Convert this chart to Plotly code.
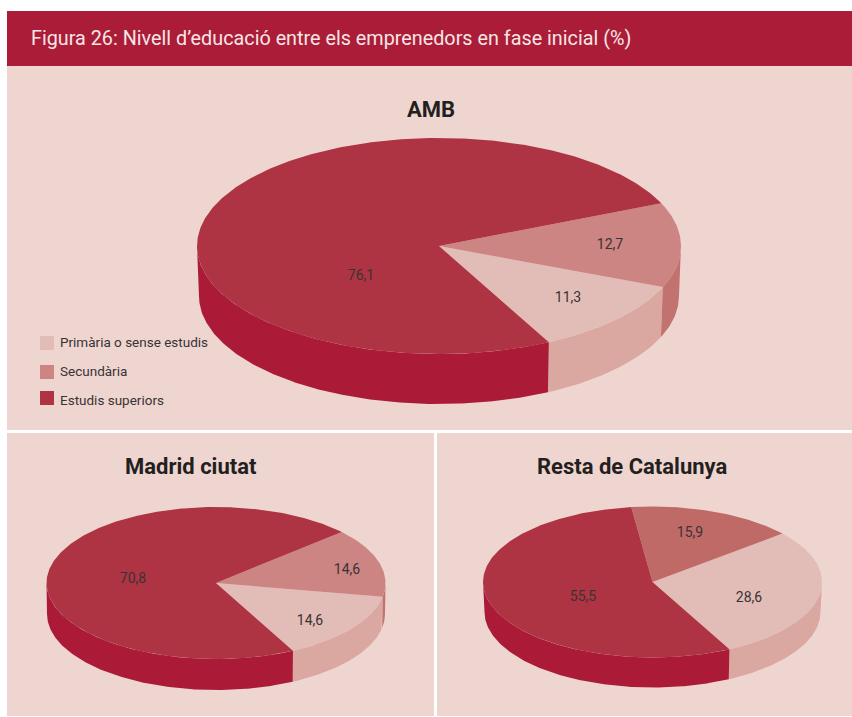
import numpy as np
import plotly.graph_objects as go

# ---- data ----
TITLE = "Figura 26: Nivell d’educació entre els emprenedors en fase inicial (%)"
CATEGORIES = ["Primària o sense estudis", "Secundària", "Estudis superiors"]
AMB_VALUES = [11.3, 12.7, 76.1]
MADRID_VALUES = [14.6, 14.6, 70.8]
RESTA_VALUES = [28.6, 15.9, 55.5]
CHART_NAMES = ["AMB", "Madrid ciutat", "Resta de Catalunya"]

# ---- styles / layout ----
FONT = "Roboto"
TEXT = "#3a3234"
PANEL = "#EFD5D0"
HEADER = "#AB1C39"
TOP_COLORS = ["#E2BDB7", "#CC8582", "#AE3443"]
SIDE_COLORS = ["#DBA8A1", "#C27370", "#AB1B37"]
RESTA_TOP = ["#E2BDB7", "#C06A68", "#AE3443"]

PIES = [
    dict(values=AMB_VALUES, cx=439, cy=246, rx=242, ry=108, depth=50, inset=2, start=-63, top=TOP_COLORS,
         title=(431, 109), labels=[(568, 298), (610, 245), (361, 276)]),
    dict(values=MADRID_VALUES, cx=216, cy=583, rx=169.5, ry=76, depth=31, inset=0.5, start=-63, top=TOP_COLORS,
         title=(191, 466), labels=[(310, 621), (347, 570), (133, 579)]),
    dict(values=RESTA_VALUES, cx=652.5, cy=582, rx=169.5, ry=75.5, depth=30, inset=1.5, start=-63, top=RESTA_TOP,
         title=(632, 466), labels=[(749, 598), (690, 533), (583, 597)]),
]
LEGEND_X, LEGEND_Y = 47, [343, 372, 398]
LEGEND_TEXT_Y = [343.5, 372.5, 401.5]

fig = go.Figure()


def arc(cx, cy, rx, ry, a0, a1):
    n = max(2, int(abs(a1 - a0) * 1.5))
    t = np.radians(np.linspace(a0, a1, n))
    return cx + rx * np.cos(t), cy - ry * np.sin(t)


def poly(x, y, color, name):
    fig.add_trace(go.Scatter(x=list(x), y=list(y), mode="lines", fill="toself",
                             fillcolor=color, line=dict(width=0, color=color),
                             name=name, showlegend=False, hoverinfo="name"))


for p in PIES:
    shares = np.array(p["values"]) / sum(p["values"]) * 360
    edges = p["start"] + np.concatenate([[0], np.cumsum(shares)])
    # side walls: only the part of each slice facing the viewer (sin < 0)
    for i, cat in enumerate(CATEGORIES):
        a0, a1 = edges[i], edges[i + 1]
        for shift in (0, -360):
            lo, hi = max(a0 + shift, -180), min(a1 + shift, 0)
            if hi > lo:
                xt, yt = arc(p["cx"], p["cy"], p["rx"], p["ry"], lo, hi)
                xb, yb = arc(p["cx"], p["cy"] + p["depth"], p["rx"] - p["inset"], p["ry"], lo, hi)
                poly(np.r_[xt, xb[::-1]], np.r_[yt, yb[::-1]], SIDE_COLORS[i], cat)
    # top faces
    for i, cat in enumerate(CATEGORIES):
        xa, ya = arc(p["cx"], p["cy"], p["rx"], p["ry"], edges[i], edges[i + 1])
        poly(np.r_[p["cx"], xa, p["cx"]], np.r_[p["cy"], ya, p["cy"]], p["top"][i], cat)
    # value labels
    fig.add_trace(go.Scatter(
        x=[q[0] for q in p["labels"]], y=[q[1] for q in p["labels"]],
        mode="text", text=[f"{v:.1f}".replace(".", ",") for v in p["values"]],
        textfont=dict(family=FONT, size=14, color=TEXT),
        textposition="middle center", showlegend=False, hoverinfo="skip"))

# legend
fig.add_trace(go.Scatter(
    x=[LEGEND_X] * 3, y=LEGEND_Y, mode="markers",
    marker=dict(symbol="square", size=14, color=TOP_COLORS, line=dict(width=0)),
    showlegend=False, hoverinfo="skip"))
fig.add_trace(go.Scatter(
    x=[60] * 3, y=LEGEND_TEXT_Y, mode="text", text=CATEGORIES,
    textfont=dict(family=FONT, size=13.5, color=TEXT),
    textposition="middle right", showlegend=False, hoverinfo="skip"))

shapes = [
    dict(type="rect", x0=7, x1=852, y0=11, y1=66, fillcolor=HEADER, line_width=0, layer="below"),
    dict(type="rect", x0=7, x1=852, y0=66, y1=430, fillcolor=PANEL, line_width=0, layer="below"),
    dict(type="rect", x0=7, x1=434, y0=433, y1=716, fillcolor=PANEL, line_width=0, layer="below"),
    dict(type="rect", x0=437, x1=852, y0=433, y1=716, fillcolor=PANEL, line_width=0, layer="below"),
]
annotations = [dict(x=29, y=38, xref="x", yref="y", xanchor="left", yanchor="middle", showarrow=False,
                    text=TITLE, font=dict(family=FONT, size=19.8, color="#F6E6E4"))]
for name, p in zip(CHART_NAMES, PIES):
    annotations.append(dict(x=p["title"][0], y=p["title"][1], xref="x", yref="y", showarrow=False,
                            text=f"<b>{name}</b>", font=dict(family=FONT, size=22, color="#231F20")))

fig.update_layout(
    width=852, height=717, margin=dict(l=0, r=0, t=0, b=0),
    paper_bgcolor="white", plot_bgcolor="white", showlegend=False,
    xaxis=dict(range=[0, 852], visible=False, fixedrange=True),
    yaxis=dict(range=[717, 0], visible=False, fixedrange=True),
    shapes=shapes, annotations=annotations,
)
fig.write_html("out.html", config=dict(displayModeBar=False),
               post_script="document.body.style.margin='0';")
